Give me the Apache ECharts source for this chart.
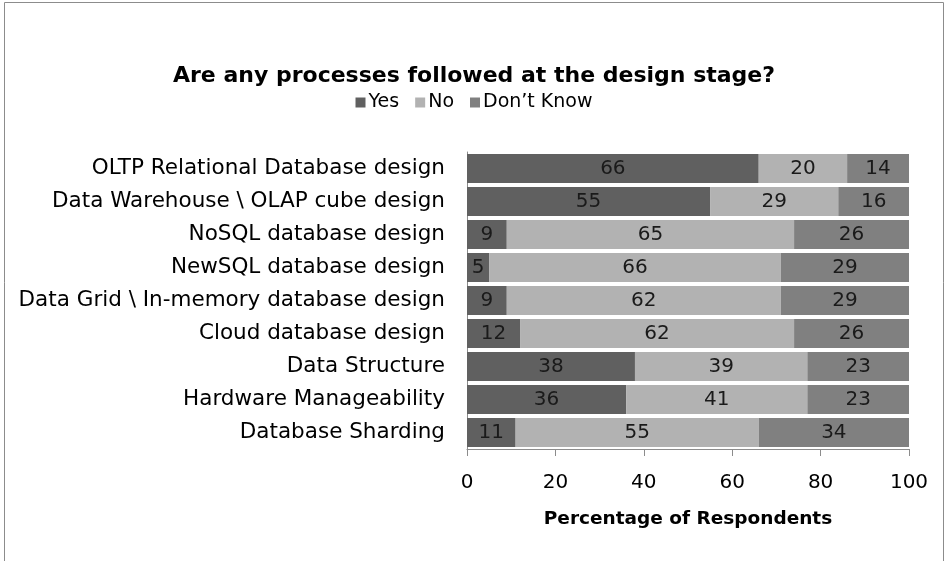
<!DOCTYPE html>
<html>
<head>
<meta charset="utf-8">
<script src="https://cdn.jsdelivr.net/npm/echarts@6/dist/echarts.min.js"></script>
<style>
  html, body { margin: 0; padding: 0; background: #fff; }
  #chart { width: 948px; height: 561px; }
</style>
</head>
<body>
<div id="chart"></div>
<script>
// categories listed top to bottom
var categories = [
  "OLTP Relational Database design",
  "Data Warehouse \\ OLAP cube design",
  "NoSQL database design",
  "NewSQL database design",
  "Data Grid \\ In-memory database design",
  "Cloud database design",
  "Data Structure",
  "Hardware Manageability",
  "Database Sharding"
];
var yesValues = [66, 55, 9, 5, 9, 12, 38, 36, 11];
var noValues = [20, 29, 65, 66, 62, 62, 39, 41, 55];
var dontKnowValues = [14, 16, 26, 29, 29, 26, 23, 23, 34];
var xTicks = [0, 20, 40, 60, 80, 100];

var fontName = "DejaVu Sans";

var chart = echarts.init(document.getElementById("chart"));

// stacked series share the same look
function makeSeries(name, values, color) {
  return {
    name: name,
    type: "bar",
    stack: "total",
    data: values,
    barCategoryGap: "12%",
    itemStyle: { color: color },
    label: {
      show: true,
      position: "inside",
      color: "#1a1a1a",
      fontFamily: fontName,
      fontSize: 20
    }
  };
}

chart.setOption({
  animation: false,
  graphic: [{
    type: "rect",
    shape: { x: 4.5, y: 2.5, width: 939, height: 600 },
    style: { fill: "none", stroke: "#8c8c8c", lineWidth: 1 }
  }],
  title: {
    text: "Are any processes followed at the design stage?",
    left: "center",
    top: 60,
    textStyle: { fontFamily: fontName, fontWeight: "bold", fontSize: 22, color: "#000" }
  },
  legend: {
    top: 88,
    left: "center",
    itemWidth: 10,
    itemHeight: 10,
    itemGap: 16,
    icon: "rect",
    textStyle: { fontFamily: fontName, fontSize: 19, color: "#000", padding: [0, 0, 0, -2] },
    data: ["Yes", "No", "Don\u2019t Know"]
  },
  grid: { left: 467, right: 39, top: 152, bottom: 112 },
  xAxis: {
    type: "value",
    min: xTicks[0],
    max: xTicks[xTicks.length - 1],
    interval: 20,
    name: "Percentage of Respondents",
    nameLocation: "middle",
    nameGap: 61,
    nameTextStyle: { fontFamily: fontName, fontWeight: "bold", fontSize: 18.5, color: "#000" },
    axisLine: { show: true, lineStyle: { color: "#8c8c8c" } },
    axisTick: { show: true, length: 7, lineStyle: { color: "#8c8c8c" } },
    splitLine: { show: false },
    axisLabel: { fontFamily: fontName, fontSize: 20, color: "#000", margin: 24 }
  },
  yAxis: {
    type: "category",
    inverse: true,
    data: categories,
    axisLine: { show: true, lineStyle: { color: "#8c8c8c" } },
    axisTick: { show: false },
    axisLabel: { fontFamily: fontName, fontSize: 21.5, color: "#000", margin: 22 }
  },
  series: [
    makeSeries("Yes", yesValues, "#606060"),
    makeSeries("No", noValues, "#b2b2b2"),
    makeSeries("Don\u2019t Know", dontKnowValues, "#808080")
  ]
});
</script>
</body>
</html>
